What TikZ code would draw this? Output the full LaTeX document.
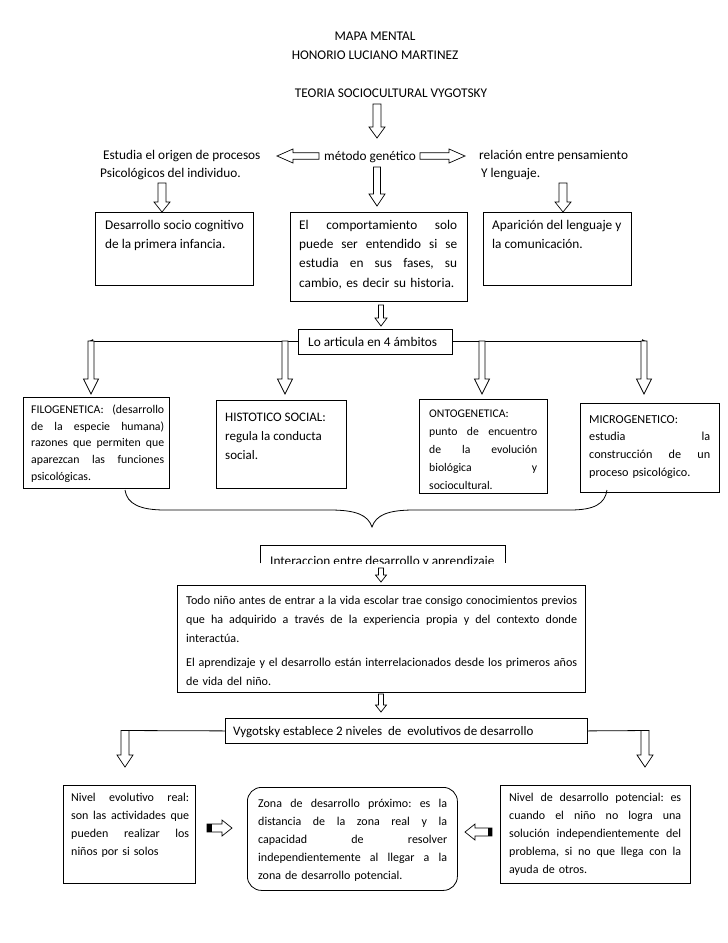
\documentclass[tikz,border=0pt]{standalone}
\usepackage{fontspec}
\setmainfont{Carlito}
\usetikzlibrary{arrows.meta}
% justified line of a given width (pt)
\newcommand\jl[2]{\leavevmode{\spaceskip=\fontdimen2\font plus 1fil\relax\hbox to #1pt{#2}}}
\newcommand\fst{\rule{0pt}{11pt}}
% hollow block arrow pointing down: x, ytop, ybottom, shaft half, head half, head length
\newcommand\dnarrow[6]{%
  \draw[arrst] ({#1-#4},#2) -- ({#1+#4},#2) -- ({#1+#4},{#3-#6}) -- ({#1+#5},{#3-#6}) -- (#1,#3) -- ({#1-#5},{#3-#6}) -- ({#1-#4},{#3-#6}) -- cycle;}
% hollow block arrow horizontal: xtip, xtail, y, shaft half, head half, head length (positive: tip on left)
\newcommand\hzarrow[6]{%
  \draw[arrst] (#1,#3) -- ({#1+#6},{#3-#5}) -- ({#1+#6},{#3-#4}) -- (#2,{#3-#4}) -- (#2,{#3+#4}) -- ({#1+#6},{#3+#4}) -- ({#1+#6},{#3+#5}) -- cycle;}
\begin{document}
\frenchspacing
\begin{tikzpicture}[x=1pt,y=-1pt,
  arrst/.style={draw=black, line width=0.7pt, fill=white, line join=miter},
  boxst/.style={draw=black, line width=0.8pt, inner sep=0pt, anchor=north west},
  ln/.style={draw=black, line width=0.8pt},
  tt/.style={inner sep=0pt, font=\fontsize{13.3}{19}\selectfont},
  bt/.style={inner sep=0pt, anchor=north west, align=left},
  fa/.style={font=\fontsize{13.3}{19.3}\selectfont},
  fr/.style 2 args={font=\fontsize{#1}{#2}\selectfont},
  fc/.style={font=\fontsize{12}{18}\selectfont},
]
\useasboundingbox (0,0) rectangle (728,943);
\fill[white] (0,0) rectangle (728,943);

% titles
\node[tt, anchor=base] (t1) at (375,40) {MAPA MENTAL};
\node[tt, anchor=base] (t2) at (375,59) {HONORIO LUCIANO MARTINEZ};
\node[tt, anchor=base] (t3) at (391,97) {TEORIA SOCIOCULTURAL VYGOTSKY};
\dnarrow{377}{104}{138}{4}{8}{11}

% method row
\node[tt, anchor=base] (mg) at (370,160) {método genético};
\hzarrow{277}{319}{156}{3.3}{7}{16}
\hzarrow{465}{420}{156}{3.3}{7}{-16}
\node[bt, font=\fontsize{13.3}{18}\selectfont] (est) at (100,148) {\fst\hspace{3pt}Estudia el origen de procesos\\Psicológicos del individuo.};
\node[bt, font=\fontsize{13.3}{18}\selectfont] (rel) at (479,148) {\fst relación entre pensamiento\\\hspace{2pt}Y lenguaje.};
\dnarrow{377}{167}{206}{3.5}{8}{12}
\dnarrow{162}{183}{212}{4}{8}{10}
\dnarrow{563}{183}{212}{4}{8}{10}

% first row of boxes
\node[boxst, minimum width=158, minimum height=73] (b1) at (95,212) {};
\node[bt, fa] (b1t) at (105,218) {\fst Desarrollo socio cognitivo\\de la primera infancia.};
\node[boxst, minimum width=177, minimum height=89] (b2) at (290,212) {};
\node[bt, fa, text width=158] (b2t) at (299,218) {\fst\jl{158}{El comportamiento solo}\\\jl{158}{puede ser entendido si se}\\\jl{158}{estudia en sus fases, su}\\cambio, es decir su historia.};
\node[boxst, minimum width=148, minimum height=73] (b3) at (483,212) {};
\node[bt, fa] (b3t) at (492,218) {\fst Aparición del lenguaje y\\la comunicación.};
\dnarrow{381}{305}{326}{2.5}{6}{8}

% ambitos
\node[boxst, minimum width=154, minimum height=25] (lo) at (298,329) {};
\node[tt, anchor=base west] (lot) at (308,346) {Lo articula en 4 ámbitos};
\coordinate (lend) at (89,341);
\coordinate (rend) at (646,341);
\draw[ln, -{Latex[length=4pt,width=4pt]}] (lo.west |- lend) -- (lend);
\draw[ln, -{Latex[length=4pt,width=4pt]}] (lo.east |- rend) -- (rend);
\dnarrow{91}{341}{394}{3}{7.5}{15}
\dnarrow{285}{341}{394}{3}{7.5}{15}
\dnarrow{482}{341}{394}{3}{7.5}{15}
\dnarrow{644}{341}{394}{3}{7.5}{15}

% four boxes
\node[boxst, minimum width=146, minimum height=91] (fi) at (23,397) {};
\node[bt, fr={11.8}{16.8}, text width=133] (fit) at (31,402) {\fst\jl{133}{FILOGENETICA: (desarrollo}\\\jl{133}{de la especie humana)}\\\jl{133}{razones que permiten que}\\\jl{133}{aparezcan las funciones}\\psicológicas.};
\node[boxst, minimum width=130, minimum height=88] (hi) at (216,400) {};
\node[bt, fr={13}{19}] (hit) at (225,410) {\fst HISTOTICO SOCIAL:\\regula la conducta\\social.};
\node[boxst, minimum width=128, minimum height=94] (on) at (419,399) {};
\node[bt, fr={11.7}{18}, text width=108] (ont) at (429,406) {\fst ONTOGENETICA:\\\jl{108}{punto de encuentro}\\\jl{108}{de la evolución}\\\jl{108}{biológica y}\\sociocultural.};
\node[boxst, minimum width=139, minimum height=89] (mi) at (580,403) {};
\node[bt, fr={12.2}{17.7}, text width=121] (mit) at (589,412) {\fst MICROGENETICO:\\\jl{121}{estudia la}\\\jl{121}{construcción de un}\\proceso psicológico.};

% brace
\coordinate (brl) at (125,490);
\coordinate (brr) at (607,490);
\coordinate (brt) at (372,527);
\draw[ln] (brl) .. controls (127,504) and (140,510) .. (165,510) -- (330,510) .. controls (356,510) and (368,515) .. (brt) .. controls (376,515) and (388,510) .. (414,510) -- (570,510) .. controls (594,510) and (605,504) .. (brr);

% interaccion (cut off at the bottom)
\node[inner sep=0pt, anchor=north west, minimum width=245, minimum height=18] (ia) at (260,545) {};
\begin{scope}
  \clip (ia.north west) rectangle (ia.south east);
  \node[tt, anchor=base west] (iat) at (270,565) {Interaccion entre desarrollo y aprendizaje};
\end{scope}
\draw[ln] (ia.south west) -- (ia.north west) -- (ia.north east) -- (ia.south east);
\dnarrow{381}{568}{582}{2.5}{5.5}{7}

% big box
\node[boxst, minimum width=408, minimum height=107] (bb) at (177,585) {};
\node[bt, fr={12.1}{19}, text width=391] (bbt) at (186,593) {\fst\jl{391}{Todo niño antes de entrar a la vida escolar trae consigo conocimientos previos}\\\jl{391}{que ha adquirido a través de la experiencia propia y del contexto donde}\\interactúa.\\[5pt]\jl{391}{El aprendizaje y el desarrollo están interrelacionados desde los primeros años}\\de vida del niño.};
\dnarrow{381}{694}{712}{2.5}{5.5}{7}

% niveles
\node[boxst, minimum width=362, minimum height=25] (vy) at (225,718) {};
\node[inner sep=0pt, font=\fontsize{13}{18}\selectfont, anchor=base west] (vyt) at (233,735) {Vygotsky establece 2 niveles\ \ de\ \ evolutivos de desarrollo};
\coordinate (vl) at (121,730.5);
\coordinate (vr) at (649,730.5);
\draw[ln] (vy.west) -- (vl);
\draw[ln] (vy.east) -- (vr);
\dnarrow{125}{730.5}{767}{4}{8}{12}
\dnarrow{645}{730.5}{767}{4}{8}{12}

% bottom boxes
\node[boxst, minimum width=132, minimum height=98] (nr) at (63,785) {};
\node[bt, fc, text width=118] (nrt) at (71,790) {\fst\jl{118}{Nivel evolutivo real:}\\\jl{118}{son las actividades que}\\\jl{118}{pueden realizar los}\\niños por si solos};
\hzarrow{232}{207}{828}{4}{8}{-10}
\fill (207,824) rectangle (211.5,832);
\node[boxst, rounded corners=14, minimum width=210, minimum height=103] (zd) at (247,787) {};
\node[bt, fc, text width=189] (zdt) at (258,796) {\fst\jl{189}{Zona de desarrollo próximo: es la}\\\jl{189}{distancia de la zona real y la}\\\jl{189}{capacidad de resolver}\\\jl{189}{independientemente al llegar a la}\\zona de desarrollo potencial.};
\hzarrow{465}{492}{832}{4}{8}{10}
\fill (487.5,828) rectangle (492,836);
\node[boxst, minimum width=190, minimum height=98] (np) at (500,785) {};
\node[bt, fc, text width=172] (npt) at (509,790) {\fst\jl{172}{Nivel de desarrollo potencial: es}\\\jl{172}{cuando el niño no logra una}\\\jl{172}{solución independientemente del}\\\jl{172}{problema, si no que llega con la}\\ayuda de otros.};
\end{tikzpicture}
\end{document}
